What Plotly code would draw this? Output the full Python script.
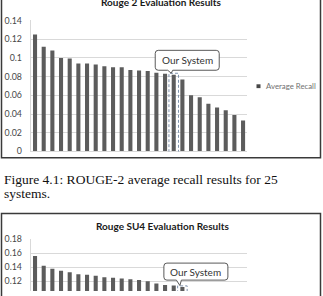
import plotly.graph_objects as go

# ---------------- data ----------------
systems = ["S01", "S02", "S03", "S04", "S05", "S06", "S07", "S08", "S09", "S10",
           "S11", "S12", "S13", "S14", "S15", "S16", "S17", "S18", "S19", "S20",
           "S21", "S22", "S23", "S24", "S25"]
rouge2_recall = [0.125, 0.112, 0.108, 0.100, 0.0995, 0.094, 0.094, 0.093, 0.091, 0.090,
                 0.090, 0.087, 0.0865, 0.086, 0.084, 0.083, 0.082, 0.077, 0.060, 0.058,
                 0.051, 0.047, 0.044, 0.039, 0.033]
su4_recall = [0.156, 0.142, 0.138, 0.135, 0.133, 0.130, 0.1295, 0.128, 0.126, 0.125,
              0.124, 0.123, 0.122, 0.120, 0.117, 0.115, 0.114, 0.112, 0.104, 0.101,
              0.097, 0.094, 0.091, 0.088, 0.083]
our_system_r2 = "S17"
our_system_su4 = "S18"
r2_ticks = [0, 0.02, 0.04, 0.06, 0.08, 0.1, 0.12, 0.14]
su4_ticks = [0.12, 0.14, 0.16, 0.18]
title_r2 = "Rouge 2 Evaluation Results"
title_su4 = "Rouge SU4 Evaluation Results"
legend_label = "Average Recall"
callout_label = "Our System"
caption_lines = ["Figure 4.1: ROUGE-2 average recall results for 25", "systems."]

# ---------------- style ----------------
W, H = 323, 296
BAR = "#5c5c5c"
GRID = "#d9d9d9"
TICK = "#474747"
FONT = "Lato"


def px(x):
    return x / W


def py(y):
    return 1 - y / H


fig = go.Figure()
fig.add_trace(go.Bar(x=systems, y=rouge2_recall, marker=dict(color=BAR, line=dict(width=0)),
                     xaxis="x", yaxis="y", showlegend=False, name=legend_label))
fig.add_trace(go.Bar(x=systems, y=su4_recall, marker=dict(color=BAR, line=dict(width=0)),
                     xaxis="x2", yaxis="y2", showlegend=False, name=legend_label))

xdom = [px(30.7), px(247.4)]
su4_top = 0.18
su4_bottom = su4_top - (296 - 242) / 733.0

axis_common_x = dict(type="category", categoryorder="array", categoryarray=systems,
                     showticklabels=False, showgrid=False, ticks="", zeroline=False,
                     range=[-0.5, len(systems) - 0.5], fixedrange=True)
axis_common_y = dict(showgrid=True, gridcolor=GRID, gridwidth=1, zeroline=False,
                     showline=True, linecolor=GRID, linewidth=1, ticks="",
                     tickfont=dict(family=FONT, size=8.8, color=TICK),
                     ticklabelstandoff=6, fixedrange=True)

fig.update_layout(
    width=W, height=H,
    margin=dict(l=0, r=0, t=0, b=0),
    paper_bgcolor="white", plot_bgcolor="white",
    bargap=0.53,
    showlegend=False,
    xaxis=dict(domain=xdom, anchor="y", showline=True, linecolor=GRID, linewidth=1, **axis_common_x),
    yaxis=dict(domain=[py(151), py(15)], anchor="x", range=[0, 0.1401], tickvals=r2_ticks,
               **axis_common_y),
    xaxis2=dict(domain=xdom, anchor="y2", showline=False, **axis_common_x),
    yaxis2=dict(domain=[0, py(242)], anchor="x2", range=[su4_bottom, su4_top + 0.0001],
                tickvals=su4_ticks, **axis_common_y),
)

shapes = []
annotations = []

shapes.append(dict(type="rect", xref="paper", yref="paper", x0=px(1.5), x1=px(320.5),
                   y0=py(157.5), y1=py(-10), line=dict(color="#3a3a3a", width=1.5),
                   fillcolor="rgba(0,0,0,0)", layer="below"))
shapes.append(dict(type="rect", xref="paper", yref="paper", x0=px(1.5), x1=px(320.5),
                   y0=py(330), y1=py(215.5), line=dict(color="#3a3a3a", width=1.5),
                   fillcolor="rgba(0,0,0,0)", layer="below"))

annotations.append(dict(text="<b>" + title_r2 + "</b>", xref="paper", yref="paper",
                        x=px(161), y=py(-4.5), xanchor="center", yanchor="middle",
                        showarrow=False, font=dict(family=FONT, size=10, color="#1a1a1a")))
annotations.append(dict(text="<b>" + title_su4 + "</b>", xref="paper", yref="paper",
                        x=px(162), y=py(228), xanchor="center", yanchor="middle",
                        showarrow=False, font=dict(family=FONT, size=10, color="#1a1a1a")))

shapes.append(dict(type="rect", xref="paper", yref="paper", x0=px(256.5), x1=px(260.5),
                   y0=py(85.3), y1=py(81.3), line=dict(width=0), fillcolor=TICK))
annotations.append(dict(text=legend_label, xref="paper", yref="paper", x=px(264), y=py(83.3),
                        xanchor="left", yanchor="middle", showarrow=False,
                        font=dict(family=FONT, size=7.8, color="#707070")))

annotations.append(dict(text=caption_lines[0], xref="paper", yref="paper", x=px(1.5), y=py(180),
                        xanchor="left", yanchor="middle", showarrow=False,
                        font=dict(family="Liberation Serif", size=13.5, color="#111111")))
annotations.append(dict(text=caption_lines[1], xref="paper", yref="paper", x=px(1.5), y=py(195),
                        xanchor="left", yanchor="middle", showarrow=False,
                        font=dict(family="Liberation Serif", size=13.5, color="#111111")))


def callout(xa, ya, sysname, value, bot, top):
    idx = systems.index(sysname)
    shapes.append(dict(type="rect", xref=xa, yref=ya, x0=idx - 0.55, x1=idx + 0.55,
                       y0=-0.002, y1=value + 0.0016, layer="above",
                       line=dict(color="#7f93ad", width=1, dash="3px,2px"),
                       fillcolor="rgba(0,0,0,0)"))
    X0, X1, r = -18.5, 45.5, 3
    p0, p1, tx, ty = -6, -1, -2.5, 1.5
    path = (f"M{X0 + r},{top} L{X1 - r},{top} Q{X1},{top} {X1},{top - r} "
            f"L{X1},{bot + r} Q{X1},{bot} {X1 - r},{bot} L{p1},{bot} L{tx},{ty} L{p0},{bot} "
            f"L{X0 + r},{bot} Q{X0},{bot} {X0},{bot + r} L{X0},{top - r} Q{X0},{top} {X0 + r},{top} Z")
    shapes.append(dict(type="path", xref=xa, yref=ya, xsizemode="pixel", ysizemode="pixel",
                       xanchor=idx, yanchor=value, path=path, layer="above",
                       fillcolor="white", line=dict(color="#595959", width=1)))
    annotations.append(dict(text=callout_label, xref=xa, yref=ya, x=idx, y=value,
                            xshift=(X0 + X1) / 2, yshift=(bot + top) / 2,
                            xanchor="center", yanchor="middle", showarrow=False,
                            font=dict(family=FONT, size=10, color="#333333")))


callout("x", "y", our_system_r2, rouge2_recall[systems.index(our_system_r2)], 4.5, 24.4)
callout("x2", "y2", our_system_su4, su4_recall[systems.index(our_system_su4)], 6.9, 23.9)

fig.update_layout(shapes=shapes, annotations=annotations)
fig.write_html("out.html")
